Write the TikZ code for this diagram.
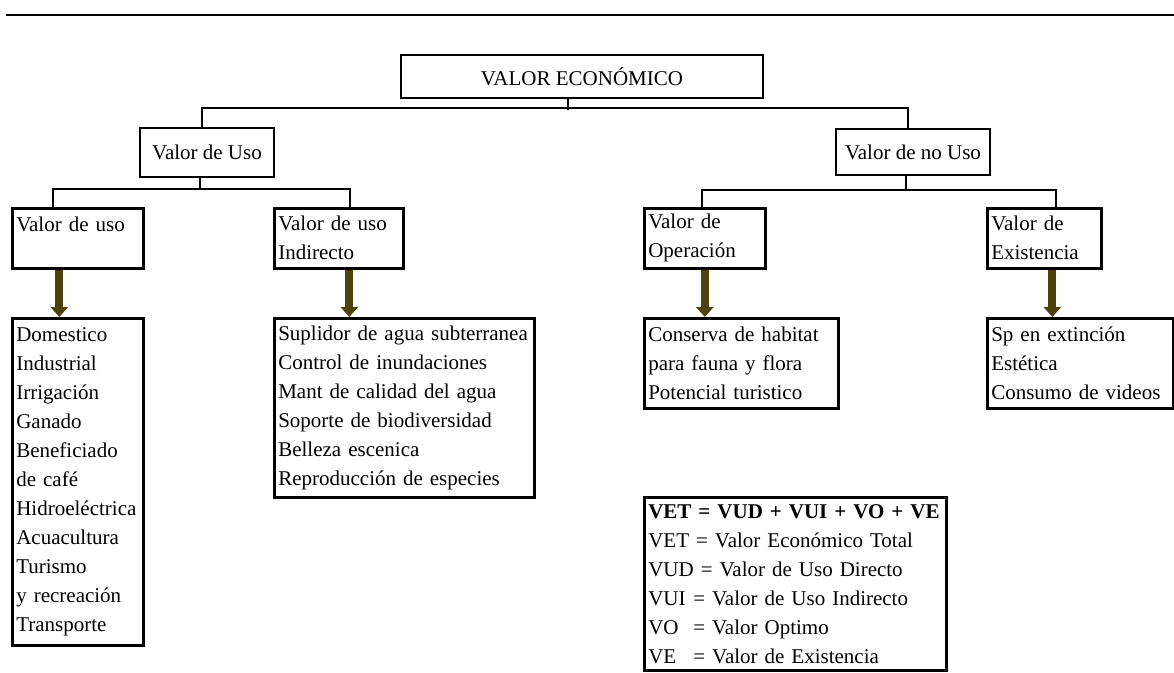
\documentclass[tikz,border=0pt]{standalone}
\usepackage{fontspec}
\setmainfont{Liberation Serif}
\usetikzlibrary{arrows.meta}

\definecolor{oliva}{RGB}{76,66,10}

\tikzset{
  cabeza/.style={draw, line width=2.6pt, inner sep=0pt, font=\fontsize{21}{29}\selectfont},
  caja/.style={draw, line width=2.6pt, anchor=north west, inner xsep=4pt, inner ysep=3pt,
    align=left, font=\fontsize{21}{29}\selectfont},
  linea/.style={line width=2pt},
  flecha/.style={draw=oliva, line width=8pt, -{Triangle[width=17pt,length=10pt]}, oliva}
}

\newcommand{\sigla}[1]{\makebox[45pt][l]{#1}}

\begin{document}
\begin{tikzpicture}[x=1pt,y=-1pt]

\useasboundingbox (0,0) rectangle (1174,672);

% Raya de arriba
\draw[line width=2pt] (6,15) -- (1174,15);

% Valor economico
\node[cabeza, minimum width=362pt, minimum height=43pt] (econ) at (582,76.5) {VALOR ECONÓMICO};

\node[cabeza, minimum width=134pt, minimum height=49pt] (uso) at (207,152.5) {Valor de Uso};
\node[cabeza, minimum width=154pt, minimum height=46pt] (nouso) at (913,152) {Valor de no Uso};

\draw[linea] ([xshift=-14pt]econ.south) -- ++(0,11);
\draw[linea] ([xshift=-5pt]uso.north) -- ++(0,-19) -| ([xshift=-5pt]nouso.north);

% Valor de Uso
\node[caja, text width=123pt, minimum height=60pt] (duso) at (11,207) {Valor de uso\\ \mbox{}};
\node[caja, text width=121pt, minimum height=60pt] (iuso) at (273,207) {Valor de uso\\Indirecto};

\draw[linea] ([xshift=-7pt]uso.south) -- ++(0,12);
\draw[linea] ([xshift=-24.5pt]duso.north) -- ++(0,-18) -| ([xshift=11.5pt]iuso.north);

\node[caja, text width=123pt, minimum height=327pt] (dlist) at (11,317)
{Domestico\\Industrial\\Irrigación\\Ganado\\Beneficiado\\de café\\Hidroeléctrica\\Acuacultura\\Turismo\\y recreación\\Transporte};

\node[caja, text width=252pt, minimum height=179pt] (ilist) at (273,317)
{Suplidor de agua subterranea\\Control de inundaciones\\Mant de calidad del agua\\Soporte de biodiversidad\\Belleza escenica\\Reproducción de especies};

\draw[flecha] ([xshift=-18.5pt]duso.south) -- ([xshift=-18.5pt]duso.south |- dlist.north);
\draw[flecha] ([xshift=10.5pt]iuso.south) -- ([xshift=10.5pt]iuso.south |- ilist.north);

% Valor de no Uso
\node[caja, text width=113pt, minimum height=60pt] (oper) at (643,207) {Valor de\\Operación};
\node[caja, text width=106pt, minimum height=60pt] (exist) at (986,207) {Valor de\\Existencia};

\draw[linea] ([xshift=-7pt]nouso.south) -- ++(0,15);
\draw[linea] ([xshift=-2.5pt]oper.north) -- ++(0,-17) -| ([xshift=12pt]exist.north);

\node[caja, text width=186pt, minimum height=90pt] (olist) at (643,317)
{Conserva de habitat\\para fauna y flora\\Potencial turistico};

\node[caja, text width=178pt, minimum height=90pt] (slist) at (986,317)
{Sp en extinción\\Estética\\Consumo de videos};

\draw[flecha] (oper.south) -- (oper.south |- olist.north);
\draw[flecha] ([xshift=8pt]exist.south) -- ([xshift=8pt]exist.south |- slist.north);

% Leyenda
\node[caja, text width=294pt, minimum height=173pt] (leyenda) at (643,496)
{\textbf{VET = VUD + VUI + VO + VE}\\
VET = Valor Económico Total\\
VUD = Valor de Uso Directo\\
\sigla{VUI}= Valor de Uso Indirecto\\
\sigla{VO}= Valor Optimo\\
\sigla{VE}= Valor de Existencia};

\end{tikzpicture}
\end{document}
